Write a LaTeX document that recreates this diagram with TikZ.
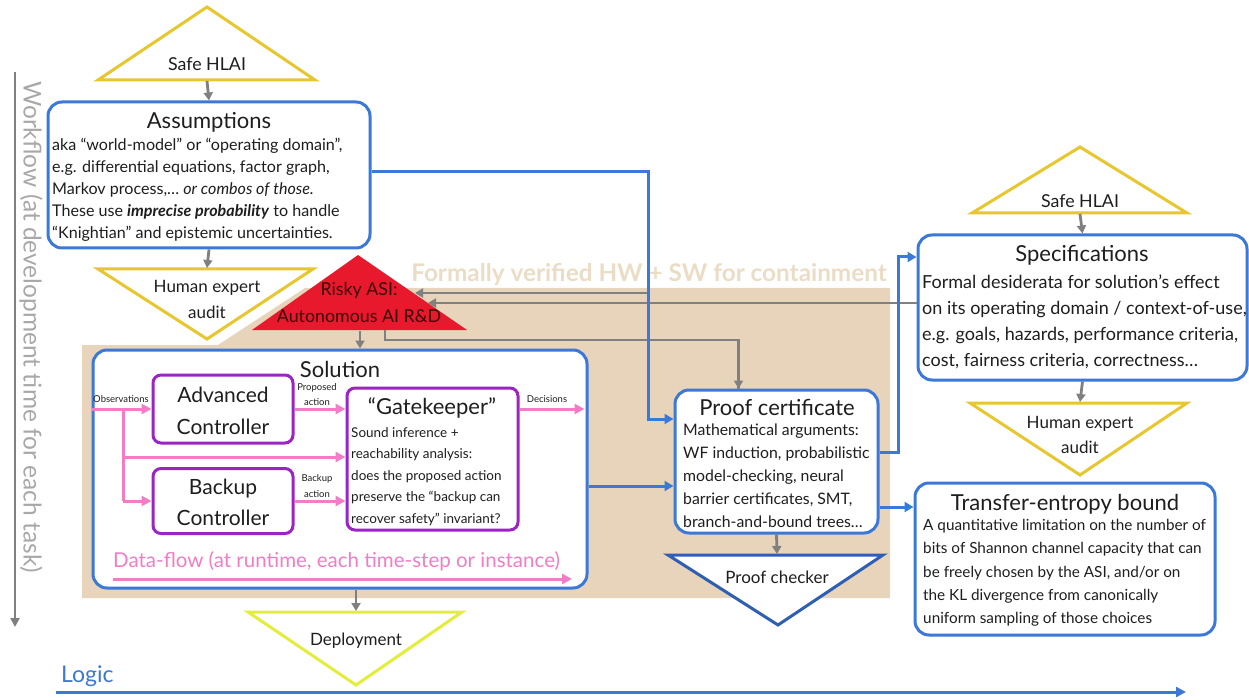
\documentclass[tikz,border=0pt]{standalone}
\usepackage{fontspec}
\setmainfont{Lato}
\usetikzlibrary{arrows.meta,calc}
\definecolor{bl}{HTML}{3B78D8}
\definecolor{gr}{HTML}{808080}
\definecolor{lg}{HTML}{A8A8A8}
\definecolor{tanbg}{HTML}{E8D4BA}
\definecolor{tantxt}{HTML}{EBDCC6}
\definecolor{pk}{HTML}{F27DC6}
\definecolor{pu}{HTML}{9C24C4}
\definecolor{rd}{HTML}{E8192C}
\definecolor{ylw}{HTML}{E8C62E}
\definecolor{lime}{HTML}{E2EE3A}
\definecolor{dbl}{HTML}{2F5FB3}
\definecolor{rtxt}{HTML}{3A0808}
\definecolor{txt}{HTML}{1E1E1E}
\newcommand\tlines[6]{%
  \foreach \t [count=\i from 0] in {#6}{\node[#2, anchor=base west, inner sep=0pt] (#1\i) at (#3, #4+\i*#5) {\t};}}
\newcommand\fs[2]{\fontsize{#1}{#2}\selectfont}
\begin{document}
\begin{tikzpicture}[x=1pt,y=-1pt, text=txt,
  bbox/.style={draw=bl, line width=3pt, rounded corners=14pt, fill=white, inner sep=0pt},
  pbox/.style={draw=pu, line width=3pt, rounded corners=8pt, fill=white, inner sep=0pt},
  garr/.style={draw=gr, line width=2.8pt, -{Triangle[length=8pt,width=9pt]}},
  gline/.style={draw=gr, line width=2.8pt},
  barr/.style={draw=bl, line width=3pt, -{Triangle[length=9pt,width=10pt]}},
  parr/.style={draw=pk, line width=3pt, -{Triangle[length=10pt,width=10pt]}},
  pline/.style={draw=pk, line width=3pt},
  ytri/.style={draw=ylw, line width=3pt, fill=white},
  ttl/.style={font=\fs{22}{26}, inner sep=0pt, anchor=base},
  small/.style={font=\fs{9.5}{11}, inner sep=0pt, anchor=base},
  tri/.style={font=\fs{17}{20}, inner sep=0pt, anchor=base}]
\useasboundingbox (0,0) rectangle (1249,700);
% helper y-levels
\coordinate (y293) at (0,293);
\coordinate (y303) at (0,303);
\coordinate (y419) at (0,419);
\coordinate (y457) at (0,457);
\coordinate (y486) at (0,486);
\coordinate (y452) at (0,452);
\coordinate (y507) at (0,507);
\coordinate (y257) at (0,257);
% containment background
\fill[tanbg] (82,345) -- (218,345) -- (305,288) -- (890,288) -- (890,598) -- (82,598) -- cycle;
\node[font=\bfseries\fs{24.3}{26}, text=tantxt, inner sep=0pt, anchor=base] (contain) at (649,282) {Formally verified HW + SW for containment};
% workflow axis
\coordinate (wf0) at (15,72);
\coordinate (wf1) at (15,627);
\draw[draw=gr, line width=2.8pt, -{Triangle[length=9pt,width=9pt]}] (wf0) -- (wf1);
\node[rotate=-90, text=lg, font=\fs{24.5}{26}, inner sep=0pt] (wf) at (31,327) {Workflow (at development time for each task)};
% logic axis
\node[text=bl, font=\fs{23}{26}, inner sep=0pt, anchor=base west] (logic) at (61,682) {Logic};
\coordinate (lg0) at (56,692);
\coordinate (lg1) at (1186,692);
\draw[draw=bl, line width=3pt, -{Triangle[length=10pt,width=10pt]}] (lg0) -- (lg1);

% ---- left column ----
\draw[ytri] (98,80) -- (315,80) -- (207,7) -- cycle;
\coordinate (hl1b) at (207,81);
\node[tri, font=\fs{17.8}{20}] (hl1t) at (207,71) {Safe HLAI};
\node[bbox, minimum width=322pt, minimum height=146pt] (assum) at (209,175) {};
\node[ttl] (assumt) at (209,129) {Assumptions};
\tlines{as}{font=\fs{16.1}{22}}{52}{150.5}{22}{{aka “world-model” or “operating domain”,},{e.g. differential equations, factor graph,},{Markov process,… \textit{or combos of those.}},{These use \textbf{\textit{imprecise probability}} to handle},{“Knightian” and epistemic uncertainties.}}
\draw[garr] (hl1b) -- (assum.north);
\draw[ytri] (98,269) -- (313,269) -- (207,339) -- cycle;
\coordinate (au1t) at (207,268);
\node[tri] (au1a) at (207,293) {Human expert};
\node[tri] (au1b) at (207,319) {audit};
\draw[garr] (assum.south) -- (au1t);

% risky ASI
\fill[rd] (252,330) -- (467,330) -- (358,255) -- cycle;
\node[tri, font=\fs{17.8}{20}, text=rtxt] (risk1) at (359,296) {Risky ASI:};
\node[tri, font=\fs{17.8}{20}, text=rtxt] (risk2) at (359,323) {Autonomous AI R\&D};
\coordinate (riskb) at (360,331);
\coordinate (riskr) at (385,330);
\coordinate (riskin1) at (415,293);
\coordinate (riskin2) at (428,303);
\coordinate (bvx) at (648,293);

% solution
\node[bbox, minimum width=494pt, minimum height=238pt] (sol) at (340,469) {};
\node[ttl] (solt) at (340,377) {Solution};
\node[pbox, minimum width=140pt, minimum height=68pt] (adv) at (223,409) {};
\node[ttl, font=\fs{21}{24}] (adv1) at (223,402) {Advanced};
\node[ttl, font=\fs{21}{24}] (adv2) at (223,434) {Controller};
\node[pbox, minimum width=140pt, minimum height=65pt] (bak) at (223,501) {};
\node[ttl, font=\fs{21}{24}] (bak1) at (223,494) {Backup};
\node[ttl, font=\fs{21}{24}] (bak2) at (223,525) {Controller};
\node[pbox, minimum width=171pt, minimum height=142pt] (gate) at (432.5,459) {};
\node[ttl, font=\fs{22}{26}] (gatet) at (432,414) {“Gatekeeper”};
\tlines{gk}{font=\fs{13.5}{21}}{351}{437}{21.5}{{Sound inference +},{reachability analysis:},{does the proposed action},{preserve the “backup can},{recover safety” invariant?}}
% pink data flow
\coordinate (br) at (123,409);
\draw[parr] (sol.west |- adv.west) -- (adv.west);
\draw[pline] (br) -- (br |- bak.west);
\draw[parr] (br |- y457) -- (gate.west |- y457);
\draw[parr] (br |- bak.west) -- (bak.west);
\draw[parr] (adv.east) -- (gate.west |- adv.east);
\draw[parr] (bak.east) -- (gate.west |- bak.east);
\draw[parr] (gate.east |- adv.east) -- ([xshift=-4pt]sol.east |- adv.east);
\node[small] (obs) at (121,402) {Observations};
\node[small] (prop1) at (317,390) {Proposed};
\node[small] (prop2) at (317,405) {action};
\node[small] (bk1) at (317,481) {Backup};
\node[small] (bk2) at (317,497) {action};
\node[small] (dec) at (547,402) {Decisions};
\node[text=pk, font=\fs{20.5}{24}, inner sep=0pt, anchor=base west] (dflow) at (113,567) {Data-flow (at runtime, each time-step or instance)};
\coordinate (df0) at (113,579);
\coordinate (df1) at (572,579);
\draw[parr] (df0) -- (df1);

% deployment
\draw[draw=lime, line width=3pt, fill=white] (248,612) -- (462,612) -- (356,685) -- cycle;
\coordinate (dept) at (356,611);
\node[tri] (dep) at (356,645) {Deployment};
\draw[garr] (dept |- sol.south) -- (dept);
\draw[garr] (riskb) -- (sol.north -| riskb);

% proof certificate
\node[bbox, minimum width=203pt, minimum height=143pt] (proof) at (776.5,461.5) {};
\node[ttl] (prooft) at (777,415) {Proof certificate};
\tlines{pc}{font=\fs{15.8}{23}}{683}{435.5}{23}{{Mathematical arguments:},{WF induction, probabilistic},{model-checking, neural},{barrier certificates, SMT,},{branch-and-bound trees…}}
\draw[draw=dbl, line width=3pt, fill=white] (668,555) -- (883,555) -- (778,625) -- cycle;
\coordinate (pct) at (777,554);
\node[tri] (pchk) at (777,583) {Proof checker};
\draw[garr] (proof.south) -- (pct);

% right column
\draw[ytri] (972,213) -- (1187,213) -- (1080,147) -- cycle;
\node[tri, font=\fs{17.8}{20}] (hl2t) at (1080,208) {Safe HLAI};
\coordinate (hl2b) at (1080,214);
\node[bbox, minimum width=329pt, minimum height=145pt] (spec) at (1082.5,307.5) {};
\node[ttl] (spect) at (1082,262) {Specifications};
\tlines{sp}{font=\fs{18}{25}}{922}{289}{25.7}{{Formal desiderata for solution’s effect},{on its operating domain / context-of-use,},{e.g. goals, hazards, performance criteria,},{cost, fairness criteria, correctness…}}
\draw[garr] (hl2b) -- (spec.north);
\draw[ytri] (970,403) -- (1187,403) -- (1080,475) -- cycle;
\coordinate (au2t) at (1080,402);
\node[tri] (au2a) at (1080,428) {Human expert};
\node[tri] (au2b) at (1080,453) {audit};
\draw[garr] (spec.south) -- (au2t);
\node[bbox, minimum width=300pt, minimum height=152pt] (trans) at (1065,559) {};
\node[ttl] (transt) at (1065,510) {Transfer-entropy bound};
\tlines{te}{font=\fs{15.3}{23}}{923}{530.5}{23.3}{{A quantitative limitation on the number of},{bits of Shannon channel capacity that can},{be freely chosen by the ASI, and/or on},{the KL divergence from canonically},{uniform sampling of those choices}}

% gray connectors to/from risky ASI
\draw[garr] (bvx) -- (riskin1);
\draw[garr] (spec.west |- y303) -- (riskin2);
\draw[gline] (riskr) -- ++(0,10) -| ([xshift=-38pt]proof.north);
\draw[garr] ([xshift=-38pt,yshift=12pt]proof.north) -- ([xshift=-38pt]proof.north);

% blue connectors
\draw[barr] ([yshift=3pt]assum.east) -| (bvx) |- (proof.west |- y419);
\draw[barr] (sol.east |- y486) -- (proof.west |- y486);
\draw[barr] (proof.east |- y452) -- ++(19,0) |- (spec.west |- y257);
\draw[barr] (proof.east |- y507) -- (trans.west |- y507);
\end{tikzpicture}
\end{document}
